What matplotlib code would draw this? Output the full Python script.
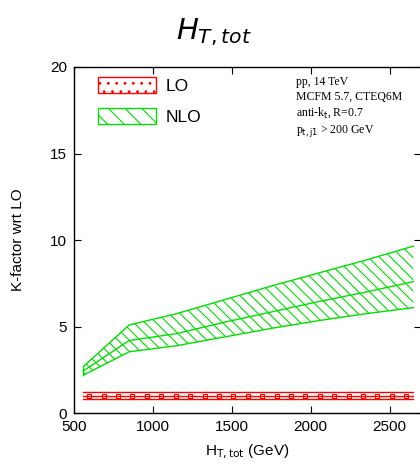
import numpy as np
import matplotlib
matplotlib.use("Agg")
import matplotlib.pyplot as plt
from matplotlib.patches import Patch

plt.rcParams['font.family'] = ['Liberation Sans', 'DejaVu Sans']
plt.rcParams['hatch.linewidth'] = 0.8

# NLO K-factor band (scale variation)
ht_nlo = [560, 850, 1150, 1450, 1750, 2050, 2350, 2650]
nlo_hi = [2.7, 5.1, 5.75, 6.55, 7.35, 8.1, 8.85, 9.65]
nlo_mid = [2.45, 4.2, 4.6, 5.25, 5.85, 6.45, 7.0, 7.6]
nlo_lo = [2.2, 3.55, 3.9, 4.4, 4.9, 5.35, 5.75, 6.1]

# LO band (normalised to itself)
ht_lo = [560, 2650]
lo_hi = [1.2, 1.2]
lo_mid = [1.0, 1.0]
lo_lo = [0.85, 0.85]

info_lines = ["pp, 14 TeV", "MCFM 5.7, CTEQ6M", r"anti-k$_\mathrm{t}$, R=0.7",
              r"p$_\mathrm{t,j1}$ > 200 GeV"]

red = "#ff0000"
green = "#00e000"

fig = plt.figure(figsize=(4.2, 4.75), dpi=100)
ax = fig.add_axes([0.176, 0.130, 0.827, 0.729])

# NLO band
ax.fill_between(ht_nlo, nlo_lo, nlo_hi, facecolor="none", edgecolor=green,
                hatch="\\\\\\", linewidth=0)
for y in (nlo_hi, nlo_mid, nlo_lo):
    ax.plot(ht_nlo, y, color=green, lw=1.0)
ax.plot([ht_nlo[0]] * 2, [nlo_lo[0], nlo_hi[0]], color=green, lw=1.0)

# LO band
for y in (lo_hi, lo_lo):
    ax.plot(ht_lo, y, color=red, lw=1.0)
xs = np.linspace(597, 2605, 23)
ax.plot(ht_lo, lo_mid, color=red, lw=1.0)
ax.plot(xs, np.interp(xs, ht_lo, lo_mid), ls="none", marker="s", ms=2.5,
        mfc="none", mec=red, mew=0.8)

ax.set_xlim(500, 2700)
ax.set_ylim(0, 20)
ax.set_xticks([500, 1000, 1500, 2000, 2500])
ax.set_yticks([0, 5, 10, 15, 20])
ax.tick_params(direction="in", top=True, right=True, length=5, labelsize=11, pad=5)
for s in ax.spines.values():
    s.set_linewidth(1.0)

ax.set_xlabel(r"H$_\mathrm{T,tot}$ (GeV)", fontsize=11, labelpad=6)
ax.set_ylabel("K-factor wrt LO", fontsize=11, labelpad=18)
fig.suptitle(r"$H_{T,tot}$", fontsize=21, y=0.965, x=0.51)

handles = [Patch(facecolor="none", edgecolor=red, hatch="..", lw=1.0),
           Patch(facecolor="none", edgecolor=green, hatch="\\\\", lw=1.0)]
ax.legend(handles, ["LO", "NLO"], loc="upper left", frameon=False, fontsize=12.5,
          handlelength=3.3, handleheight=1.0, handletextpad=0.6,
          labelspacing=0.8, borderaxespad=0.3, bbox_to_anchor=(0.035, 1.005))

ax.text(0.64, 0.975, "\n".join(info_lines), transform=ax.transAxes, va="top",
        ha="left", family="Liberation Serif", fontsize=8.5, linespacing=1.3)

fig.savefig("out.png", dpi=100)
